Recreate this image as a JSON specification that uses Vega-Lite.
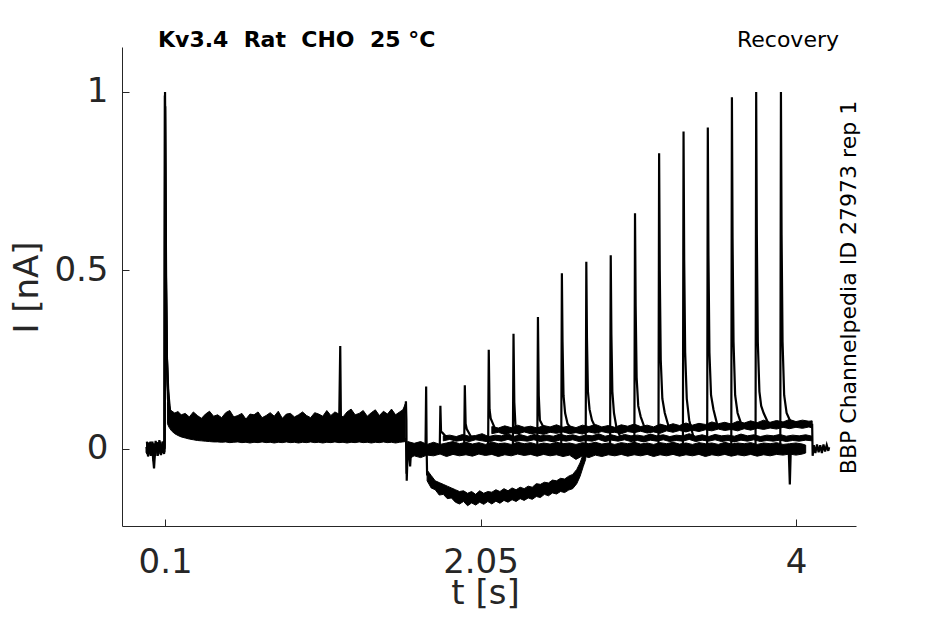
{
 "$schema": "https://vega.github.io/schema/vega-lite/v6.json",
 "width": 734,
 "height": 479,
 "autosize": "none",
 "padding": {"left": 122, "top": 47, "right": 89, "bottom": 98},
 "background": "white",
 "config": {"view": {"stroke": null}, "font": "DejaVu Sans"},
 "title": {"text": "Kv3.4 \u00a0Rat \u00a0CHO \u00a025 °C", "anchor": "start", "frame": "group", "dx": 36, "dy": 41, "fontSize": 22, "fontWeight": "bold", "font": "DejaVu Sans", "color": "#000000", "baseline": "alphabetic", "offset": 0},
 "datasets": {
  "band": [
   {"g":"b1","t":0.115,"lo":0.07,"hi":0.13},{"g":"b1","t":0.125,"lo":0.06,"hi":0.115},{"g":"b1","t":0.14,"lo":0.05,"hi":0.106},{"g":"b1","t":0.16,"lo":0.042,"hi":0.1},{"g":"b1","t":0.18,"lo":0.037,"hi":0.104},{"g":"b1","t":0.2,"lo":0.033,"hi":0.095},{"g":"b1","t":0.225,"lo":0.03,"hi":0.099},{"g":"b1","t":0.25,"lo":0.027,"hi":0.089},{"g":"b1","t":0.275,"lo":0.025,"hi":0.103},{"g":"b1","t":0.3,"lo":0.023,"hi":0.093},{"g":"b1","t":0.325,"lo":0.022,"hi":0.085},{"g":"b1","t":0.35,"lo":0.021,"hi":0.097},{"g":"b1","t":0.375,"lo":0.02,"hi":0.105},{"g":"b1","t":0.4,"lo":0.019,"hi":0.091},{"g":"b1","t":0.425,"lo":0.019,"hi":0.095},{"g":"b1","t":0.45,"lo":0.018,"hi":0.087},{"g":"b1","t":0.475,"lo":0.019,"hi":0.101},{"g":"b1","t":0.5,"lo":0.017,"hi":0.107},{"g":"b1","t":0.525,"lo":0.018,"hi":0.089},{"g":"b1","t":0.55,"lo":0.019,"hi":0.093},{"g":"b1","t":0.575,"lo":0.017,"hi":0.099},{"g":"b1","t":0.6,"lo":0.018,"hi":0.083},{"g":"b1","t":0.625,"lo":0.016,"hi":0.097},{"g":"b1","t":0.65,"lo":0.018,"hi":0.095},{"g":"b1","t":0.675,"lo":0.017,"hi":0.103},{"g":"b1","t":0.7,"lo":0.019,"hi":0.087},{"g":"b1","t":0.725,"lo":0.017,"hi":0.093},{"g":"b1","t":0.75,"lo":0.018,"hi":0.101},{"g":"b1","t":0.775,"lo":0.016,"hi":0.091},{"g":"b1","t":0.8,"lo":0.018,"hi":0.105},{"g":"b1","t":0.825,"lo":0.017,"hi":0.085},{"g":"b1","t":0.85,"lo":0.019,"hi":0.097},{"g":"b1","t":0.875,"lo":0.017,"hi":0.099},{"g":"b1","t":0.9,"lo":0.018,"hi":0.089},{"g":"b1","t":0.925,"lo":0.016,"hi":0.095},{"g":"b1","t":0.95,"lo":0.018,"hi":0.103},{"g":"b1","t":0.975,"lo":0.017,"hi":0.093},{"g":"b1","t":1.0,"lo":0.019,"hi":0.087},{"g":"b1","t":1.025,"lo":0.017,"hi":0.101},{"g":"b1","t":1.05,"lo":0.018,"hi":0.097},{"g":"b1","t":1.075,"lo":0.016,"hi":0.091},{"g":"b1","t":1.1,"lo":0.018,"hi":0.107},{"g":"b1","t":1.125,"lo":0.017,"hi":0.093},{"g":"b1","t":1.15,"lo":0.019,"hi":0.103},{"g":"b1","t":1.175,"lo":0.017,"hi":0.097},{"g":"b1","t":1.2,"lo":0.018,"hi":0.089},{"g":"b1","t":1.225,"lo":0.016,"hi":0.103},{"g":"b1","t":1.25,"lo":0.018,"hi":0.111},{"g":"b1","t":1.275,"lo":0.017,"hi":0.095},{"g":"b1","t":1.3,"lo":0.019,"hi":0.099},{"g":"b1","t":1.325,"lo":0.017,"hi":0.107},{"g":"b1","t":1.35,"lo":0.018,"hi":0.091},{"g":"b1","t":1.375,"lo":0.016,"hi":0.101},{"g":"b1","t":1.4,"lo":0.018,"hi":0.109},{"g":"b1","t":1.425,"lo":0.017,"hi":0.093},{"g":"b1","t":1.45,"lo":0.019,"hi":0.105},{"g":"b1","t":1.475,"lo":0.017,"hi":0.097},{"g":"b1","t":1.5,"lo":0.018,"hi":0.111},{"g":"b1","t":1.525,"lo":0.016,"hi":0.095},{"g":"b1","t":1.55,"lo":0.018,"hi":0.103},{"g":"b1","t":1.57,"lo":0.019,"hi":0.109},{"g":"b1","t":1.585,"lo":0.02,"hi":0.125},
   {"g":"b0","t":1.6,"lo":-0.03,"hi":0.02},{"g":"b0","t":1.64,"lo":-0.02,"hi":0.015},{"g":"b0","t":1.68,"lo":-0.025,"hi":0.02},{"g":"b0","t":1.72,"lo":-0.018,"hi":0.012},{"g":"b0","t":1.76,"lo":-0.02,"hi":0.018},{"g":"b0","t":1.8,"lo":-0.015,"hi":0.012},{"g":"b0","t":1.84,"lo":-0.022,"hi":0.016},{"g":"b0","t":1.88,"lo":-0.016,"hi":0.02},{"g":"b0","t":1.92,"lo":-0.02,"hi":0.014},{"g":"b0","t":1.96,"lo":-0.017,"hi":0.018},{"g":"b0","t":2.0,"lo":-0.021,"hi":0.013},{"g":"b0","t":2.04,"lo":-0.015,"hi":0.017},{"g":"b0","t":2.08,"lo":-0.019,"hi":0.012},{"g":"b0","t":2.12,"lo":-0.016,"hi":0.019},{"g":"b0","t":2.16,"lo":-0.022,"hi":0.014},{"g":"b0","t":2.2,"lo":-0.017,"hi":0.016},{"g":"b0","t":2.24,"lo":-0.02,"hi":0.012},{"g":"b0","t":2.28,"lo":-0.015,"hi":0.018},{"g":"b0","t":2.32,"lo":-0.019,"hi":0.014},{"g":"b0","t":2.36,"lo":-0.016,"hi":0.017},{"g":"b0","t":2.4,"lo":-0.021,"hi":0.012},{"g":"b0","t":2.44,"lo":-0.016,"hi":0.016},{"g":"b0","t":2.48,"lo":-0.02,"hi":0.013},{"g":"b0","t":2.52,"lo":-0.017,"hi":0.018},{"g":"b0","t":2.56,"lo":-0.022,"hi":0.014},{"g":"b0","t":2.6,"lo":-0.018,"hi":0.016},{"g":"b0","t":2.64,"lo":-0.03,"hi":0.012},{"g":"b0","t":2.68,"lo":-0.02,"hi":0.017},{"g":"b0","t":2.72,"lo":-0.025,"hi":0.014},{"g":"b0","t":2.76,"lo":-0.018,"hi":0.018},{"g":"b0","t":2.8,"lo":-0.022,"hi":0.013},{"g":"b0","t":2.84,"lo":-0.017,"hi":0.016},{"g":"b0","t":2.88,"lo":-0.02,"hi":0.012},{"g":"b0","t":2.92,"lo":-0.016,"hi":0.017},{"g":"b0","t":2.96,"lo":-0.021,"hi":0.014},{"g":"b0","t":3.0,"lo":-0.017,"hi":0.018},{"g":"b0","t":3.04,"lo":-0.02,"hi":0.013},{"g":"b0","t":3.08,"lo":-0.016,"hi":0.016},{"g":"b0","t":3.12,"lo":-0.022,"hi":0.012},{"g":"b0","t":3.16,"lo":-0.017,"hi":0.017},{"g":"b0","t":3.2,"lo":-0.02,"hi":0.014},{"g":"b0","t":3.24,"lo":-0.016,"hi":0.018},{"g":"b0","t":3.28,"lo":-0.021,"hi":0.013},{"g":"b0","t":3.32,"lo":-0.017,"hi":0.016},{"g":"b0","t":3.36,"lo":-0.02,"hi":0.012},{"g":"b0","t":3.4,"lo":-0.016,"hi":0.017},{"g":"b0","t":3.44,"lo":-0.022,"hi":0.014},{"g":"b0","t":3.48,"lo":-0.017,"hi":0.016},{"g":"b0","t":3.52,"lo":-0.02,"hi":0.012},{"g":"b0","t":3.56,"lo":-0.016,"hi":0.018},{"g":"b0","t":3.6,"lo":-0.021,"hi":0.013},{"g":"b0","t":3.64,"lo":-0.017,"hi":0.016},{"g":"b0","t":3.68,"lo":-0.02,"hi":0.014},{"g":"b0","t":3.72,"lo":-0.016,"hi":0.017},{"g":"b0","t":3.76,"lo":-0.021,"hi":0.012},{"g":"b0","t":3.8,"lo":-0.017,"hi":0.016},{"g":"b0","t":3.84,"lo":-0.02,"hi":0.014},{"g":"b0","t":3.88,"lo":-0.016,"hi":0.017},{"g":"b0","t":3.92,"lo":-0.018,"hi":0.012},{"g":"b0","t":3.96,"lo":-0.015,"hi":0.014},{"g":"b0","t":4.0,"lo":-0.018,"hi":0.016},{"g":"b0","t":4.04,"lo":-0.015,"hi":0.013},{"g":"b0","t":4.06,"lo":-0.012,"hi":0.01},
   {"g":"bm","t":1.82,"lo":0.022,"hi":0.036},{"g":"bm","t":1.86,"lo":0.026,"hi":0.038},{"g":"bm","t":1.9,"lo":0.021,"hi":0.034},{"g":"bm","t":1.94,"lo":0.024,"hi":0.04},{"g":"bm","t":1.98,"lo":0.02,"hi":0.035},{"g":"bm","t":2.02,"lo":0.025,"hi":0.037},{"g":"bm","t":2.06,"lo":0.022,"hi":0.042},{"g":"bm","t":2.1,"lo":0.019,"hi":0.034},{"g":"bm","t":2.14,"lo":0.024,"hi":0.038},{"g":"bm","t":2.18,"lo":0.021,"hi":0.036},{"g":"bm","t":2.22,"lo":0.026,"hi":0.041},{"g":"bm","t":2.26,"lo":0.02,"hi":0.035},{"g":"bm","t":2.3,"lo":0.023,"hi":0.039},{"g":"bm","t":2.34,"lo":0.021,"hi":0.034},{"g":"bm","t":2.38,"lo":0.025,"hi":0.04},{"g":"bm","t":2.42,"lo":0.02,"hi":0.036},{"g":"bm","t":2.46,"lo":0.023,"hi":0.038},{"g":"bm","t":2.5,"lo":0.019,"hi":0.035},{"g":"bm","t":2.54,"lo":0.024,"hi":0.041},{"g":"bm","t":2.58,"lo":0.021,"hi":0.036},{"g":"bm","t":2.62,"lo":0.025,"hi":0.039},{"g":"bm","t":2.66,"lo":0.02,"hi":0.034},{"g":"bm","t":2.7,"lo":0.023,"hi":0.038},{"g":"bm","t":2.74,"lo":0.021,"hi":0.036},{"g":"bm","t":2.78,"lo":0.026,"hi":0.042},{"g":"bm","t":2.82,"lo":0.02,"hi":0.035},{"g":"bm","t":2.86,"lo":0.024,"hi":0.039},{"g":"bm","t":2.9,"lo":0.021,"hi":0.034},{"g":"bm","t":2.94,"lo":0.025,"hi":0.04},{"g":"bm","t":2.98,"lo":0.02,"hi":0.036},{"g":"bm","t":3.02,"lo":0.023,"hi":0.038},{"g":"bm","t":3.06,"lo":0.019,"hi":0.035},{"g":"bm","t":3.1,"lo":0.024,"hi":0.041},{"g":"bm","t":3.14,"lo":0.021,"hi":0.036},{"g":"bm","t":3.18,"lo":0.025,"hi":0.039},{"g":"bm","t":3.22,"lo":0.02,"hi":0.034},{"g":"bm","t":3.26,"lo":0.023,"hi":0.038},{"g":"bm","t":3.3,"lo":0.021,"hi":0.036},{"g":"bm","t":3.34,"lo":0.026,"hi":0.042},{"g":"bm","t":3.38,"lo":0.02,"hi":0.035},{"g":"bm","t":3.42,"lo":0.024,"hi":0.039},{"g":"bm","t":3.46,"lo":0.021,"hi":0.034},{"g":"bm","t":3.5,"lo":0.025,"hi":0.04},{"g":"bm","t":3.54,"lo":0.02,"hi":0.036},{"g":"bm","t":3.58,"lo":0.023,"hi":0.038},{"g":"bm","t":3.62,"lo":0.019,"hi":0.035},{"g":"bm","t":3.66,"lo":0.024,"hi":0.041},{"g":"bm","t":3.7,"lo":0.021,"hi":0.036},{"g":"bm","t":3.74,"lo":0.025,"hi":0.039},{"g":"bm","t":3.78,"lo":0.02,"hi":0.034},{"g":"bm","t":3.82,"lo":0.023,"hi":0.038},{"g":"bm","t":3.86,"lo":0.021,"hi":0.036},{"g":"bm","t":3.9,"lo":0.024,"hi":0.04},{"g":"bm","t":3.94,"lo":0.02,"hi":0.035},{"g":"bm","t":3.98,"lo":0.023,"hi":0.038},{"g":"bm","t":4.02,"lo":0.021,"hi":0.036},{"g":"bm","t":4.06,"lo":0.024,"hi":0.039},{"g":"bm","t":4.1,"lo":0.022,"hi":0.035},
   {"g":"bu","t":2.12,"lo":0.042,"hi":0.062},{"g":"bu","t":2.16,"lo":0.046,"hi":0.058},{"g":"bu","t":2.2,"lo":0.04,"hi":0.064},{"g":"bu","t":2.24,"lo":0.045,"hi":0.059},{"g":"bu","t":2.28,"lo":0.041,"hi":0.066},{"g":"bu","t":2.32,"lo":0.047,"hi":0.06},{"g":"bu","t":2.36,"lo":0.042,"hi":0.063},{"g":"bu","t":2.4,"lo":0.044,"hi":0.058},{"g":"bu","t":2.44,"lo":0.04,"hi":0.065},{"g":"bu","t":2.48,"lo":0.046,"hi":0.061},{"g":"bu","t":2.52,"lo":0.043,"hi":0.067},{"g":"bu","t":2.56,"lo":0.047,"hi":0.06},{"g":"bu","t":2.6,"lo":0.042,"hi":0.064},{"g":"bu","t":2.64,"lo":0.045,"hi":0.059},{"g":"bu","t":2.68,"lo":0.041,"hi":0.066},{"g":"bu","t":2.72,"lo":0.047,"hi":0.062},{"g":"bu","t":2.76,"lo":0.043,"hi":0.068},{"g":"bu","t":2.8,"lo":0.048,"hi":0.061},{"g":"bu","t":2.84,"lo":0.044,"hi":0.065},{"g":"bu","t":2.88,"lo":0.046,"hi":0.06},{"g":"bu","t":2.92,"lo":0.042,"hi":0.067},{"g":"bu","t":2.96,"lo":0.048,"hi":0.063},{"g":"bu","t":3.0,"lo":0.045,"hi":0.069},{"g":"bu","t":3.04,"lo":0.049,"hi":0.062},{"g":"bu","t":3.08,"lo":0.044,"hi":0.066},{"g":"bu","t":3.12,"lo":0.047,"hi":0.061},{"g":"bu","t":3.16,"lo":0.043,"hi":0.069},{"g":"bu","t":3.2,"lo":0.05,"hi":0.064},{"g":"bu","t":3.24,"lo":0.046,"hi":0.07},{"g":"bu","t":3.28,"lo":0.051,"hi":0.065},{"g":"bu","t":3.32,"lo":0.047,"hi":0.072},{"g":"bu","t":3.36,"lo":0.052,"hi":0.066},{"g":"bu","t":3.4,"lo":0.048,"hi":0.071},{"g":"bu","t":3.44,"lo":0.053,"hi":0.068},{"g":"bu","t":3.48,"lo":0.05,"hi":0.075},{"g":"bu","t":3.52,"lo":0.055,"hi":0.07},{"g":"bu","t":3.56,"lo":0.051,"hi":0.074},{"g":"bu","t":3.6,"lo":0.054,"hi":0.069},{"g":"bu","t":3.64,"lo":0.05,"hi":0.077},{"g":"bu","t":3.68,"lo":0.056,"hi":0.072},{"g":"bu","t":3.72,"lo":0.052,"hi":0.078},{"g":"bu","t":3.76,"lo":0.057,"hi":0.073},{"g":"bu","t":3.8,"lo":0.054,"hi":0.08},{"g":"bu","t":3.84,"lo":0.058,"hi":0.074},{"g":"bu","t":3.88,"lo":0.055,"hi":0.079},{"g":"bu","t":3.92,"lo":0.06,"hi":0.075},{"g":"bu","t":3.96,"lo":0.056,"hi":0.082},{"g":"bu","t":4.0,"lo":0.06,"hi":0.076},{"g":"bu","t":4.04,"lo":0.057,"hi":0.08},{"g":"bu","t":4.08,"lo":0.061,"hi":0.077},{"g":"bu","t":4.1,"lo":0.058,"hi":0.078},
   {"g":"bn","t":1.72,"lo":-0.09,"hi":-0.06},{"g":"bn","t":1.745,"lo":-0.11,"hi":-0.075},{"g":"bn","t":1.77,"lo":-0.115,"hi":-0.09},{"g":"bn","t":1.795,"lo":-0.13,"hi":-0.095},{"g":"bn","t":1.82,"lo":-0.128,"hi":-0.1},{"g":"bn","t":1.845,"lo":-0.14,"hi":-0.105},{"g":"bn","t":1.87,"lo":-0.138,"hi":-0.11},{"g":"bn","t":1.895,"lo":-0.15,"hi":-0.115},{"g":"bn","t":1.92,"lo":-0.155,"hi":-0.12},{"g":"bn","t":1.945,"lo":-0.148,"hi":-0.118},{"g":"bn","t":1.97,"lo":-0.16,"hi":-0.125},{"g":"bn","t":1.995,"lo":-0.152,"hi":-0.12},{"g":"bn","t":2.02,"lo":-0.158,"hi":-0.128},{"g":"bn","t":2.045,"lo":-0.15,"hi":-0.118},{"g":"bn","t":2.07,"lo":-0.156,"hi":-0.125},{"g":"bn","t":2.095,"lo":-0.148,"hi":-0.12},{"g":"bn","t":2.12,"lo":-0.155,"hi":-0.122},{"g":"bn","t":2.145,"lo":-0.147,"hi":-0.115},{"g":"bn","t":2.17,"lo":-0.153,"hi":-0.12},{"g":"bn","t":2.195,"lo":-0.145,"hi":-0.112},{"g":"bn","t":2.22,"lo":-0.15,"hi":-0.118},{"g":"bn","t":2.245,"lo":-0.143,"hi":-0.11},{"g":"bn","t":2.27,"lo":-0.148,"hi":-0.115},{"g":"bn","t":2.295,"lo":-0.14,"hi":-0.108},{"g":"bn","t":2.32,"lo":-0.145,"hi":-0.112},{"g":"bn","t":2.345,"lo":-0.138,"hi":-0.105},{"g":"bn","t":2.37,"lo":-0.142,"hi":-0.108},{"g":"bn","t":2.395,"lo":-0.134,"hi":-0.098},{"g":"bn","t":2.42,"lo":-0.137,"hi":-0.1},{"g":"bn","t":2.445,"lo":-0.128,"hi":-0.094},{"g":"bn","t":2.47,"lo":-0.132,"hi":-0.096},{"g":"bn","t":2.495,"lo":-0.124,"hi":-0.088},{"g":"bn","t":2.52,"lo":-0.127,"hi":-0.09},{"g":"bn","t":2.545,"lo":-0.12,"hi":-0.083},{"g":"bn","t":2.57,"lo":-0.123,"hi":-0.085},{"g":"bn","t":2.595,"lo":-0.116,"hi":-0.077},{"g":"bn","t":2.62,"lo":-0.112,"hi":-0.072},{"g":"bn","t":2.645,"lo":-0.098,"hi":-0.058},{"g":"bn","t":2.665,"lo":-0.078,"hi":-0.04},{"g":"bn","t":2.685,"lo":-0.05,"hi":-0.015},{"g":"bn","t":2.7,"lo":-0.03,"hi":0.0}
  ],
  "tr": [
   {"s":"a1","t":-0.015,"i":0.005},{"s":"a1","t":-0.01,"i":-0.015},{"s":"a1","t":-0.004,"i":0.012},{"s":"a1","t":0.005,"i":-0.01},{"s":"a1","t":0.015,"i":0.01},{"s":"a1","t":0.025,"i":-0.02},{"s":"a1","t":0.032,"i":-0.055},{"s":"a1","t":0.038,"i":-0.01},{"s":"a1","t":0.05,"i":0.012},{"s":"a1","t":0.06,"i":-0.008},{"s":"a1","t":0.07,"i":0.015},{"s":"a1","t":0.08,"i":-0.005},{"s":"a1","t":0.09,"i":0.012},{"s":"a1","t":0.097,"i":0.0},{"s":"a1","t":0.1,"i":1.0},{"s":"a1","t":0.103,"i":0.75},{"s":"a1","t":0.107,"i":0.45},{"s":"a1","t":0.112,"i":0.25},{"s":"a1","t":0.12,"i":0.16},{"s":"a1","t":0.13,"i":0.11},
   {"s":"a2","t":-0.014,"i":-0.012},{"s":"a2","t":-0.008,"i":0.016},{"s":"a2","t":0.0,"i":-0.015},{"s":"a2","t":0.01,"i":0.02},{"s":"a2","t":0.02,"i":-0.012},{"s":"a2","t":0.03,"i":0.015},{"s":"a2","t":0.04,"i":-0.02},{"s":"a2","t":0.05,"i":0.018},{"s":"a2","t":0.06,"i":-0.015},{"s":"a2","t":0.07,"i":0.02},{"s":"a2","t":0.08,"i":-0.012},{"s":"a2","t":0.09,"i":0.02},{"s":"a2","t":0.096,"i":-0.01},{"s":"a2","t":0.099,"i":0.99},{"s":"a2","t":0.104,"i":0.55},{"s":"a2","t":0.109,"i":0.3},{"s":"a2","t":0.116,"i":0.18},{"s":"a2","t":0.125,"i":0.12},{"s":"a2","t":0.14,"i":0.09},
   {"s":"a3","t":-0.012,"i":0.02},{"s":"a3","t":-0.005,"i":-0.022},{"s":"a3","t":0.003,"i":0.018},{"s":"a3","t":0.012,"i":-0.02},{"s":"a3","t":0.022,"i":0.02},{"s":"a3","t":0.03,"i":-0.035},{"s":"a3","t":0.042,"i":0.022},{"s":"a3","t":0.055,"i":-0.02},{"s":"a3","t":0.065,"i":0.024},{"s":"a3","t":0.075,"i":-0.018},{"s":"a3","t":0.085,"i":0.02},{"s":"a3","t":0.094,"i":-0.015},{"s":"a3","t":0.098,"i":0.01},{"s":"a3","t":0.101,"i":0.96},{"s":"a3","t":0.105,"i":0.5},{"s":"a3","t":0.111,"i":0.26},{"s":"a3","t":0.118,"i":0.14},{"s":"a3","t":0.128,"i":0.08},{"s":"a3","t":0.14,"i":0.06},
   {"s":"sp","t":1.176,"i":0.06},{"s":"sp","t":1.183,"i":0.288},{"s":"sp","t":1.187,"i":0.09},{"s":"sp","t":1.195,"i":0.07},
   {"s":"st1","t":1.584,"i":0.1},{"s":"st1","t":1.589,"i":0.133},{"s":"st1","t":1.592,"i":0.08},{"s":"st1","t":1.594,"i":-0.09},{"s":"st1","t":1.598,"i":-0.03},{"s":"st1","t":1.604,"i":0.005},{"s":"st1","t":1.61,"i":-0.02},{"s":"st1","t":1.615,"i":-0.05},{"s":"st1","t":1.62,"i":-0.01},
   {"s":"st2","t":1.586,"i":0.03},{"s":"st2","t":1.59,"i":0.02},{"s":"st2","t":1.593,"i":-0.07},{"s":"st2","t":1.597,"i":-0.01},{"s":"st2","t":1.603,"i":0.015},
   {"s":"n","t":1.71,"i":0.0},{"s":"n","t":1.714,"i":0.174},{"s":"n","t":1.717,"i":0.0},{"s":"n","t":1.72,"i":-0.075},
   {"s":"q2","t":1.798,"i":0.0},{"s":"q2","t":1.802,"i":0.12},{"s":"q2","t":1.806,"i":0.048},{"s":"q2","t":1.814,"i":0.045},{"s":"q2","t":1.84,"i":0.032},
   {"s":"q3","t":1.949,"i":0.0},{"s":"q3","t":1.953,"i":0.178},{"s":"q3","t":1.958,"i":0.07},{"s":"q3","t":1.965,"i":0.055},{"s":"q3","t":1.993,"i":0.032},
   {"s":"q4","t":2.097,"i":0.0},{"s":"q4","t":2.101,"i":0.277},{"s":"q4","t":2.106,"i":0.11},{"s":"q4","t":2.113,"i":0.085},{"s":"q4","t":2.141,"i":0.055},
   {"s":"q5","t":2.25,"i":0.0},{"s":"q5","t":2.254,"i":0.322},{"s":"q5","t":2.259,"i":0.13},{"s":"q5","t":2.266,"i":0.065},{"s":"q5","t":2.294,"i":0.035},
   {"s":"q6","t":2.401,"i":0.0},{"s":"q6","t":2.405,"i":0.369},{"s":"q6","t":2.41,"i":0.15},{"s":"q6","t":2.417,"i":0.08},{"s":"q6","t":2.445,"i":0.055},
   {"s":"q7","t":2.549,"i":0.0},{"s":"q7","t":2.553,"i":0.492},{"s":"q7","t":2.557,"i":0.3},{"s":"q7","t":2.563,"i":0.15},{"s":"q7","t":2.573,"i":0.1},{"s":"q7","t":2.588,"i":0.07},{"s":"q7","t":2.613,"i":0.055},
   {"s":"q8","t":2.7,"i":0.0},{"s":"q8","t":2.704,"i":0.524},{"s":"q8","t":2.708,"i":0.31},{"s":"q8","t":2.714,"i":0.16},{"s":"q8","t":2.724,"i":0.11},{"s":"q8","t":2.739,"i":0.08},{"s":"q8","t":2.764,"i":0.056},
   {"s":"q9","t":2.851,"i":0.0},{"s":"q9","t":2.855,"i":0.542},{"s":"q9","t":2.859,"i":0.32},{"s":"q9","t":2.865,"i":0.16},{"s":"q9","t":2.875,"i":0.1},{"s":"q9","t":2.89,"i":0.06},{"s":"q9","t":2.915,"i":0.032},
   {"s":"q10","t":3.001,"i":0.0},{"s":"q10","t":3.005,"i":0.66},{"s":"q10","t":3.009,"i":0.4},{"s":"q10","t":3.015,"i":0.2},{"s":"q10","t":3.025,"i":0.12},{"s":"q10","t":3.04,"i":0.09},{"s":"q10","t":3.065,"i":0.058},
   {"s":"q11","t":3.15,"i":0.0},{"s":"q11","t":3.154,"i":0.828},{"s":"q11","t":3.158,"i":0.5},{"s":"q11","t":3.164,"i":0.25},{"s":"q11","t":3.174,"i":0.14},{"s":"q11","t":3.189,"i":0.1},{"s":"q11","t":3.214,"i":0.06},
   {"s":"q12","t":3.301,"i":0.0},{"s":"q12","t":3.305,"i":0.889},{"s":"q12","t":3.309,"i":0.53},{"s":"q12","t":3.315,"i":0.27},{"s":"q12","t":3.325,"i":0.14},{"s":"q12","t":3.34,"i":0.08},{"s":"q12","t":3.365,"i":0.035},
   {"s":"q13","t":3.451,"i":0.0},{"s":"q13","t":3.455,"i":0.9},{"s":"q13","t":3.459,"i":0.54},{"s":"q13","t":3.465,"i":0.27},{"s":"q13","t":3.475,"i":0.15},{"s":"q13","t":3.49,"i":0.11},{"s":"q13","t":3.515,"i":0.064},
   {"s":"q14","t":3.6,"i":0.0},{"s":"q14","t":3.604,"i":0.985},{"s":"q14","t":3.608,"i":0.59},{"s":"q14","t":3.614,"i":0.3},{"s":"q14","t":3.624,"i":0.15},{"s":"q14","t":3.639,"i":0.1},{"s":"q14","t":3.664,"i":0.066},
   {"s":"q15","t":3.75,"i":0.0},{"s":"q15","t":3.754,"i":1.0},{"s":"q15","t":3.758,"i":0.6},{"s":"q15","t":3.764,"i":0.3},{"s":"q15","t":3.774,"i":0.16},{"s":"q15","t":3.785,"i":0.12},{"s":"q15","t":3.8,"i":0.1},{"s":"q15","t":3.83,"i":0.07},
   {"s":"q16","t":3.903,"i":0.0},{"s":"q16","t":3.907,"i":1.0},{"s":"q16","t":3.911,"i":0.6},{"s":"q16","t":3.917,"i":0.3},{"s":"q16","t":3.927,"i":0.15},{"s":"q16","t":3.942,"i":0.1},{"s":"q16","t":3.967,"i":0.075},
   {"s":"dn","t":3.955,"i":0.0},{"s":"dn","t":3.962,"i":-0.1},{"s":"dn","t":3.968,"i":0.0},
   {"s":"tl","t":4.1,"i":0.07},{"s":"tl","t":4.103,"i":-0.02},{"s":"tl","t":4.11,"i":0.01},{"s":"tl","t":4.12,"i":-0.012},{"s":"tl","t":4.13,"i":0.012},{"s":"tl","t":4.14,"i":-0.01},{"s":"tl","t":4.15,"i":0.01},{"s":"tl","t":4.16,"i":-0.012},{"s":"tl","t":4.17,"i":0.012},{"s":"tl","t":4.18,"i":-0.008},{"s":"tl","t":4.19,"i":0.01},{"s":"tl","t":4.2,"i":-0.006},{"s":"tl","t":4.205,"i":0.004}
  ]
 },
 "layer": [
  {
   "data": {"name": "band"},
   "mark": {"type": "area", "color": "#000000", "stroke": "#000000", "strokeWidth": 1, "opacity": 1},
   "encoding": {
    "x": {"field": "t", "type": "quantitative", "scale": {"domain": [-0.166, 4.371], "nice": false, "zero": false},
     "axis": {"orient": "top", "domain": false, "ticks": false, "labels": false, "grid": false, "title": "Recovery", "titleFont": "DejaVu Sans", "titleFontSize": 22, "titleFontWeight": "normal", "titleColor": "#000000", "titleX": 716.5, "titleY": -1, "titleAlign": "right", "titleAnchor": "end", "titleBaseline": "alphabetic", "titleAngle": 0}},
    "y": {"field": "lo", "type": "quantitative", "scale": {"domain": [-0.2167, 1.126], "nice": false, "zero": false},
     "axis": {"orient": "right", "domain": false, "ticks": false, "labels": false, "grid": false, "title": "BBP Channelpedia ID 27973 rep 1", "titleFont": "DejaVu Sans", "titleFontSize": 22, "titleFontWeight": "normal", "titleColor": "#000000", "titleAngle": -90, "titleX": -1, "titleY": 240, "titleAlign": "center", "titleBaseline": "alphabetic"}},
    "y2": {"field": "hi"},
    "detail": {"field": "g", "type": "nominal"}
   }
  },
  {
   "data": {"name": "tr"},
   "mark": {"type": "line", "color": "#000000", "strokeWidth": 2.2},
   "encoding": {
    "x": {"field": "t", "type": "quantitative", "scale": {"domain": [-0.166, 4.371], "nice": false, "zero": false},
     "axis": {"orient": "bottom", "values": [0.1, 2.05, 4], "format": ".3~g", "grid": false, "labelFont": "DejaVu Sans", "labelFontSize": 34, "labelColor": "#262626", "labelPadding": 26, "tickSize": -7, "tickColor": "#262626", "tickWidth": 1, "domainColor": "#262626", "domainWidth": 1, "title": "t [s]", "titleFont": "DejaVu Sans", "titleFontSize": 34, "titleFontWeight": "normal", "titleColor": "#262626", "titleX": 363, "titleY": 77, "titleAlign": "center", "titleBaseline": "alphabetic"}},
    "y": {"field": "i", "type": "quantitative", "scale": {"domain": [-0.2167, 1.126], "nice": false, "zero": false},
     "axis": {"orient": "left", "values": [0, 0.5, 1], "format": ".3~g", "grid": false, "labelFont": "DejaVu Sans", "labelFontSize": 34, "labelColor": "#262626", "labelPadding": 21, "tickSize": -7, "tickColor": "#262626", "tickWidth": 1, "domainColor": "#262626", "domainWidth": 1, "title": "I [nA]", "titleFont": "DejaVu Sans", "titleFontSize": 34, "titleFontWeight": "normal", "titleColor": "#262626", "titleX": -85, "titleY": 240, "titleAngle": -90, "titleAlign": "center", "titleBaseline": "alphabetic"}},
    "detail": {"field": "s", "type": "nominal"}
   }
  }
 ],
 "resolve": {"axis": {"x": "independent", "y": "independent"}}
}
